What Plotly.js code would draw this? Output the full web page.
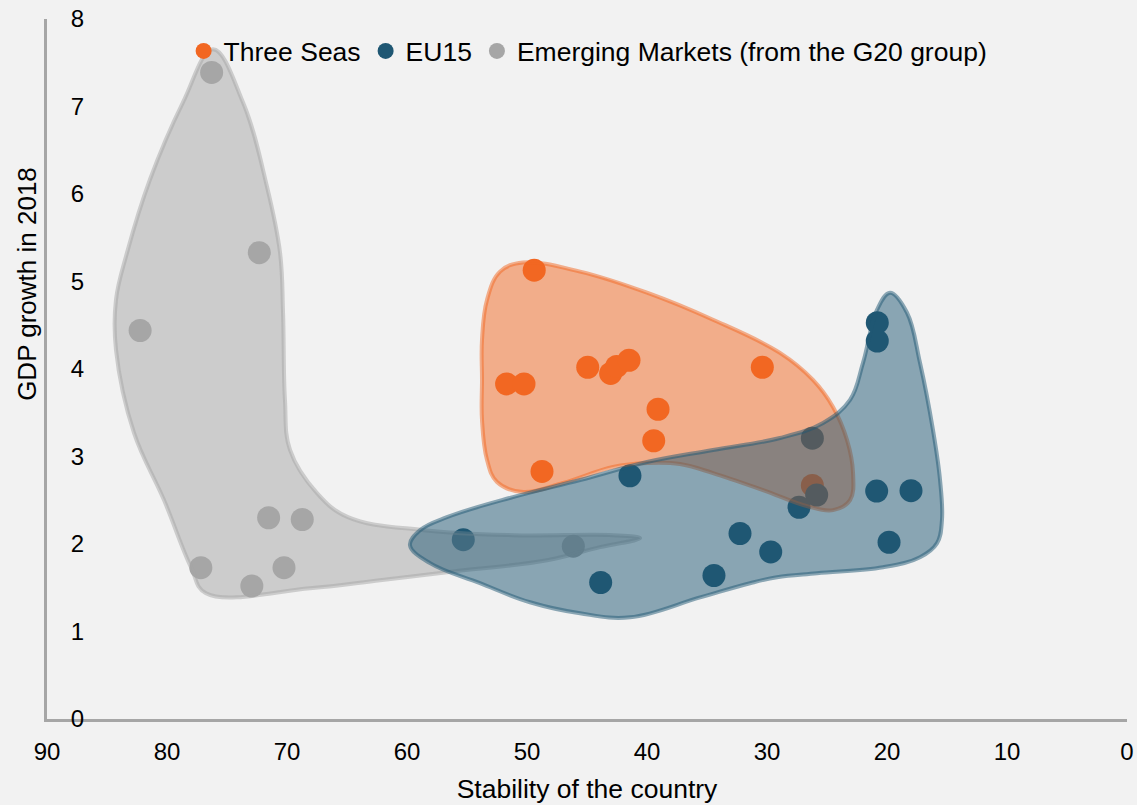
<!DOCTYPE html>
<html>
<head>
<meta charset="utf-8">
<script src="https://cdn.plot.ly/plotly-3.0.1.min.js"></script>
<style>html,body{margin:0;padding:0;background:#f2f2f2;}</style>
</head>
<body>
<div id="chart" style="width:1137px;height:805px;"></div>
<script>
// ---- Data ----
const seriesNames = ['Three Seas', 'EU15', 'Emerging Markets (from the G20 group)'];
const xTitle = 'Stability of the country';
const yTitle = 'GDP growth in 2018';

// Three Seas points: stability (x), GDP growth 2018 (y)
const threeSeasX = [49.4, 51.7, 50.25, 44.94, 43.03, 42.53, 41.5, 39.08, 39.44, 48.75, 30.39, 26.22];
const threeSeasY = [5.13, 3.83, 3.83, 4.02, 3.95, 4.03, 4.10, 3.54, 3.18, 2.83, 4.02, 2.67];

// EU15 points
const eu15X = [20.81, 20.81, 26.22, 25.86, 27.33, 20.86, 18.0, 19.83, 29.69, 41.42, 32.25, 55.31, 43.86, 34.42];
const eu15Y = [4.53, 4.32, 3.21, 2.56, 2.42, 2.605, 2.61, 2.02, 1.91, 2.78, 2.12, 2.05, 1.56, 1.64];

// Emerging Markets points
const emergingX = [76.28, 72.31, 82.24, 71.53, 68.73, 77.18, 70.25, 72.93, 46.14];
const emergingY = [7.39, 5.33, 4.44, 2.30, 2.28, 1.73, 1.73, 1.52, 1.975];

// Group outlines (hand-drawn regions in the reference), in data coordinates
const emergingHullX = [40.58, 43.92, 48.33, 56.67, 62.25, 68.08, 76.75, 78.0, 80.25, 82.75, 84.25, 84.25, 83.33, 81.42, 78.67, 76.17, 73.67, 71.67, 70.58, 70.33, 70.17, 69.75, 67.5, 64.92, 58.58, 51.17, 42.83, 40.58];
const emergingHullY = [2.067, 1.964, 1.815, 1.678, 1.586, 1.494, 1.437, 1.735, 2.502, 3.269, 4.22, 4.792, 5.33, 6.166, 7.048, 7.655, 7.048, 6.086, 5.33, 4.643, 3.647, 3.075, 2.582, 2.307, 2.158, 2.101, 2.101, 2.067];

const threeSeasHullX = [53.75, 53.75, 53.33, 52.25, 50.33, 45.58, 40.0, 34.5, 28.92, 26.17, 24.5, 23.33, 22.83, 23.08, 24.5, 26.67, 30.33, 34.5, 37.25, 40.0, 42.83, 47.0, 50.33, 52.5, 53.33, 53.75, 53.75];
const threeSeasHullY = [3.876, 4.334, 4.792, 5.113, 5.216, 5.113, 4.872, 4.563, 4.185, 3.876, 3.567, 3.189, 2.811, 2.502, 2.387, 2.433, 2.616, 2.811, 2.914, 2.926, 2.880, 2.697, 2.594, 2.708, 2.960, 3.418, 3.876];

const eu15HullX = [59.75, 58.92, 56.67, 51.17, 45.58, 40.0, 34.5, 28.92, 25.33, 23.08, 22.0, 20.83, 19.75, 18.33, 17.25, 16.17, 15.58, 15.42, 15.83, 17.25, 20.33, 25.83, 29.17, 31.42, 35.58, 41.42, 45.58, 49.75, 53.92, 58.08, 59.75];
const eu15HullY = [1.987, 2.158, 2.307, 2.536, 2.731, 2.937, 3.075, 3.212, 3.384, 3.647, 4.071, 4.678, 4.872, 4.643, 4.071, 3.304, 2.731, 2.273, 2.010, 1.849, 1.735, 1.666, 1.620, 1.552, 1.390, 1.162, 1.208, 1.334, 1.552, 1.781, 1.987];

const xTicks = [90, 80, 70, 60, 50, 40, 30, 20, 10, 0];
const yTicks = [0, 1, 2, 3, 4, 5, 6, 7, 8];

// ---- Styles ----
const ORANGE = '#f26722';
const BLUE = '#1f5773';
const GREY = '#a6a6a6';
const FONT = 'Liberation Sans, Arial, sans-serif';

function pointTrace(name, xs, ys, color) {
  return {
    type: 'scatter', mode: 'markers', name: name, x: xs, y: ys,
    marker: {size: 23, color: color, line: {width: 0}},
    hoverinfo: 'x+y+name'
  };
}
function hullTrace(xs, ys, rgb) {
  return {
    type: 'scatter', mode: 'lines', x: xs, y: ys,
    fill: 'toself',
    fillcolor: 'rgba(' + rgb + ',0.5)',
    line: {shape: 'spline', smoothing: 1.1, color: 'rgba(' + rgb + ',0.5)', width: 4},
    showlegend: false, hoverinfo: 'skip'
  };
}

const data = [
  pointTrace(seriesNames[0], threeSeasX, threeSeasY, ORANGE),
  pointTrace(seriesNames[1], eu15X, eu15Y, BLUE),
  pointTrace(seriesNames[2], emergingX, emergingY, GREY),
  hullTrace(emergingHullX, emergingHullY, '166,166,166'),
  hullTrace(threeSeasHullX, threeSeasHullY, '242,103,34'),
  hullTrace(eu15HullX, eu15HullY, '31,87,115')
];

const layout = {
  width: 1137, height: 805,
  margin: {l: 47, r: 10, t: 19, b: 86},
  paper_bgcolor: '#f2f2f2', plot_bgcolor: '#f2f2f2',
  font: {family: FONT, color: '#000', size: 24},
  showlegend: true,
  legend: {
    orientation: 'h', x: 0.1265, xanchor: 'left', y: 0.954, yanchor: 'middle',
    bgcolor: 'rgba(0,0,0,0)', font: {size: 26.5, family: FONT, color: '#000'},
    traceorder: 'normal'
  },
  xaxis: {
    range: [90, 0], tickmode: 'array', tickvals: xTicks, ticktext: xTicks.map(String),
    showgrid: false, zeroline: false, showline: true, linecolor: GREY, linewidth: 3,
    ticks: '', tickfont: {size: 24, family: FONT, color: '#000'}, ticklabelstandoff: 9,
    title: {text: xTitle, font: {size: 26.5, family: FONT, color: '#000'}, standoff: 16},
    fixedrange: true
  },
  yaxis: {
    range: [0, 8], tickmode: 'array', tickvals: yTicks, ticktext: yTicks.map(String),
    showgrid: false, zeroline: false, showline: true, linecolor: GREY, linewidth: 3,
    ticks: '', tickfont: {size: 24, family: FONT, color: '#000'}, ticklabelstandoff: -45,
    title: {text: ''},
    fixedrange: true
  },
  annotations: [{
    text: yTitle, textangle: -90, showarrow: false,
    xref: 'paper', yref: 'paper', x: -0.018, y: 0.621,
    xanchor: 'center', yanchor: 'middle',
    font: {size: 26, family: FONT, color: '#000'}
  }]
};

Plotly.newPlot('chart', data, layout, {displayModeBar: false});
</script>
</body>
</html>
